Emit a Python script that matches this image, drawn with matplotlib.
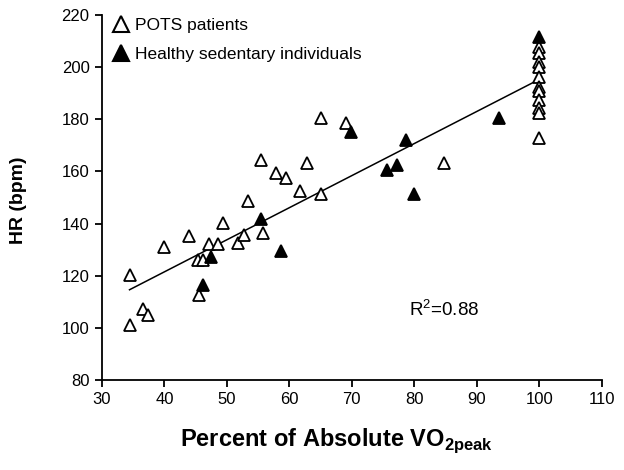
import matplotlib
matplotlib.use('Agg')
import matplotlib.pyplot as plt
from matplotlib.lines import Line2D

plt.rcParams['font.family'] = ['Liberation Sans', 'DejaVu Sans']
plt.rcParams['mathtext.fontset'] = 'custom'
plt.rcParams['mathtext.rm'] = 'Liberation Sans'
plt.rcParams['mathtext.bf'] = 'Liberation Sans:bold'

# POTS patients (open triangles)
pots_x = [34.5, 34.4, 36.6, 37.3, 40.0, 43.9, 45.4, 46.2, 45.5, 47.2, 48.6, 49.3,
          51.7, 52.8, 53.3, 55.8, 55.5, 57.9, 59.4, 61.7, 62.8, 65.1, 65.1, 69.0,
          84.7, 100, 100, 100, 100, 100, 100, 100, 100, 100, 100, 100]
pots_y = [120.3, 101.0, 107.3, 105.0, 131.2, 135.2, 126.0, 126.0, 112.6, 132.2, 132.2, 140.3,
          132.4, 135.6, 148.7, 136.3, 164.4, 159.3, 157.4, 152.6, 163.4, 180.4, 151.3, 178.5,
          163.4, 207.9, 205.6, 202.1, 200.2, 196.4, 192.5, 191.0, 187.4, 184.2, 182.3, 172.7]

# Healthy sedentary individuals (filled triangles)
healthy_x = [46.1, 47.5, 55.5, 58.7, 69.9, 75.6, 77.3, 78.7, 80.0, 93.5, 100]
healthy_y = [116.4, 127.3, 141.6, 129.6, 175.2, 160.5, 162.5, 172.1, 151.3, 180.4, 211.5]

# regression line
slope = 1.23
intercept = 72.3
r2_text = 'R$^2$=0.88'

fig = plt.figure(figsize=(6.24, 4.70), dpi=100)
ax = fig.add_axes([0.1635, 0.1915, 0.8008, 0.7766])

x_all = pots_x + healthy_x
x0, x1 = min(x_all), max(x_all)
ax.plot([x0, x1], [intercept + slope * x0, intercept + slope * x1],
        color='black', lw=1.1, zorder=1)

ax.plot(pots_x, pots_y, linestyle='none', marker='^', ms=8.5,
        mfc='white', mec='black', mew=1.3, zorder=2)
ax.plot(healthy_x, healthy_y, linestyle='none', marker='^', ms=8.5,
        mfc='black', mec='black', mew=1.3, zorder=3)

ax.set_xlim(30, 110)
ax.set_ylim(80, 220)
ax.set_xticks(range(30, 111, 10))
ax.set_yticks(range(80, 221, 20))

for side in ['top', 'right']:
    ax.spines[side].set_visible(False)
for side in ['left', 'bottom']:
    ax.spines[side].set_linewidth(1.3)
ax.tick_params(direction='out', length=5, width=1.3, labelsize=12, pad=4)

ax.set_xlabel('Percent of Absolute VO$_{\\mathbf{2peak}}$', fontsize=17,
              fontweight='bold')
ax.xaxis.set_label_coords(0.47, -0.128)
ax.set_ylabel('HR (bpm)', fontsize=14, fontweight='bold')
ax.yaxis.set_label_coords(-0.151, 0.493)

ax.text(84.8, 107, r2_text, fontsize=13.5, ha='center', va='center')

handles = [
    Line2D([], [], linestyle='none', marker='^', ms=11, mfc='white', mec='black', mew=1.5),
    Line2D([], [], linestyle='none', marker='^', ms=11.5, mfc='black', mec='black', mew=1.5),
]
ax.legend(handles, ['POTS patients', 'Healthy sedentary individuals'],
          loc='upper left', bbox_to_anchor=(0.02, 0.992), frameon=False,
          fontsize=12.5, handlelength=1.0, handletextpad=0.3,
          labelspacing=0.78, borderpad=0, borderaxespad=0)

fig.savefig('out.png', dpi=100)
